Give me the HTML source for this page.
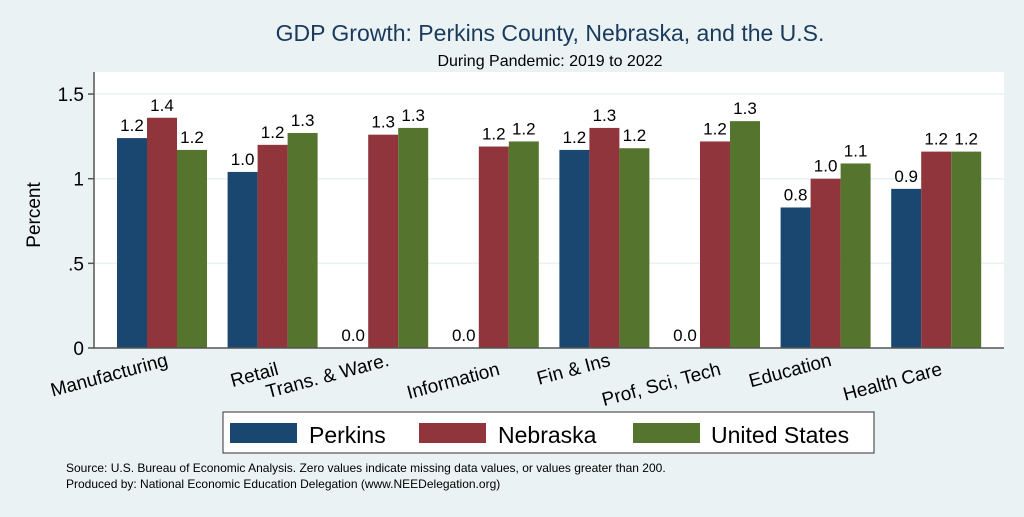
<!DOCTYPE html>
<html><head><meta charset="utf-8"><style>
body{margin:0;background:#eaf2f3;font-family:"Liberation Sans",sans-serif}
</style></head><body>
<svg id="c" width="1024" height="512" xmlns="http://www.w3.org/2000/svg">
<rect width="1024" height="512" fill="#eaf2f3"/>
<rect x="94" y="72" width="910" height="276" fill="#fff"/>
<text x="550" y="41" text-anchor="middle" font-size="23" fill="#1a3a5c">GDP Growth: Perkins County, Nebraska, and the U.S.</text>
<text x="550" y="66" text-anchor="middle" font-size="16" fill="#000">During Pandemic: 2019 to 2022</text>
<text transform="translate(40,215) rotate(-90)" text-anchor="middle" font-size="19">Percent</text>
<g id="grid"></g><g id="bars"></g><g id="xl"></g>
<line x1="94" y1="72" x2="94" y2="348" stroke="#555" stroke-width="1.5"/>
<line x1="94" y1="348" x2="1004" y2="348" stroke="#555" stroke-width="1.5"/>
<g>
<rect x="223" y="412" width="651" height="41" fill="#fff" stroke="#333" stroke-width="1"/>
<rect x="230" y="423" width="67" height="20" fill="#1a476f"/>
<text x="309" y="443" font-size="23">Perkins</text>
<rect x="419" y="423" width="67" height="20" fill="#90353b"/>
<text x="498" y="443" font-size="23">Nebraska</text>
<rect x="633" y="423" width="67" height="20" fill="#55752f"/>
<text x="711" y="443" font-size="23">United States</text>
</g>
<text x="66" y="472" font-size="12">Source: U.S. Bureau of Economic Analysis. Zero values indicate missing data values, or values greater than 200.</text>
<text x="66" y="488" font-size="12">Produced by: National Economic Education Delegation (www.NEEDelegation.org)</text>
</svg>
<script>
const categories=["Manufacturing","Retail","Trans. & Ware.","Information","Fin & Ins","Prof, Sci, Tech","Education","Health Care"];
const perkins=[1.24,1.04,0,0,1.17,0,0.83,0.94];
const nebraska=[1.36,1.20,1.26,1.19,1.30,1.22,1.00,1.16];
const unitedStates=[1.17,1.27,1.30,1.22,1.18,1.34,1.09,1.16];
const yTicks=[0,0.5,1,1.5];
const yTickLabels=["0",".5","1","1.5"];
const NS="http://www.w3.org/2000/svg";
const y=v=>348-v*169.3;
const gx=i=>117+i*110.6;
const bw=30;
function mk(t,a,p){const e=document.createElementNS(NS,t);for(const k in a)e.setAttribute(k,a[k]);p.appendChild(e);return e;}
const grid=document.getElementById('grid'),bars=document.getElementById('bars'),xl=document.getElementById('xl');
yTicks.forEach((t,i)=>{
 if(t>0){const g=mk('line',{x1:94,x2:1004,y1:y(t),y2:y(t),stroke:'#eaf2f3','stroke-width':1.5},grid);
 
 }
 const tk=mk('line',{x1:88,x2:94,y1:y(t),y2:y(t),stroke:'#555','stroke-width':1.5},grid);
 
 
 const tl=mk('text',{x:84,y:y(t)+7,'text-anchor':'end','font-size':19},grid);
 tl.textContent=yTickLabels[i];
 
 
});
const series=[[perkins,'#1a476f','perkins'],[nebraska,'#90353b','nebraska'],[unitedStates,'#55752f','us']];
categories.forEach((c,i)=>{
 series.forEach((s,j)=>{
  const v=s[0][i],x=gx(i)+j*bw;
  const r=mk('rect',{x:x,y:y(v),width:bw,height:348-y(v),fill:s[1]},bars);
  
  
  const t=mk('text',{x:x+bw/2,y:y(v)-7,'text-anchor':'middle','font-size':17},bars);
  t.textContent=v.toFixed(1);
  
  
 });
 const cx=gx(i)+48, ty=(i%2?360:351)+15;
 const l=mk('text',{x:cx,y:ty,'text-anchor':'end','font-size':19,transform:`rotate(-15 ${cx} ${ty-15})`},xl);
 l.textContent=c;
 
 
});
</script>
</body></html>
